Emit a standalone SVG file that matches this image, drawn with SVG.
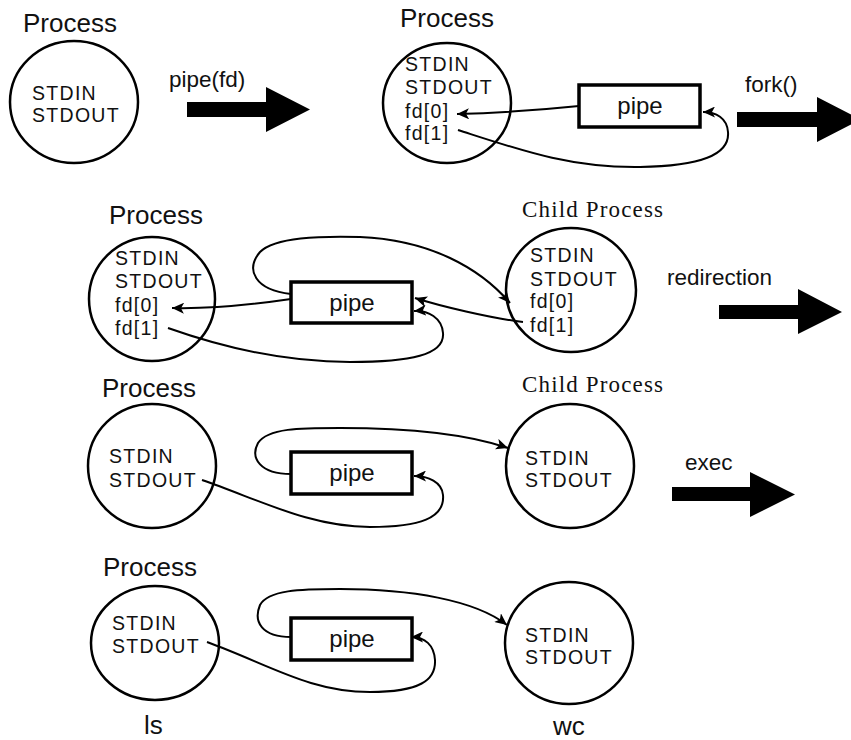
<svg xmlns="http://www.w3.org/2000/svg" width="851" height="740" viewBox="0 0 851 740">
  <style>
    .bg { fill: #ffffff; }
    .proc { fill: none; stroke: #000; stroke-width: 2.5; }
    .pipe { fill: #ffffff; stroke: #000; stroke-width: 3.5; }
    .lbl { font-family: "Liberation Sans", Arial, sans-serif; font-size: 22.5px; fill: #111; }
    .fd { font-family: "Liberation Sans", Arial, sans-serif; font-size: 19.5px; letter-spacing: 1.3px; fill: #111; }
    .title { font-family: "Liberation Sans", Arial, sans-serif; font-size: 26px; fill: #111; }
    .serif { font-family: "Liberation Serif", "Times New Roman", serif; font-size: 23px; fill: #111; }
    .pipetxt { font-family: "Liberation Sans", Arial, sans-serif; font-size: 24px; fill: #111; text-anchor: middle; }
    .wire { fill: none; stroke: #000; stroke-width: 2; marker-end: url(#tip); }
    .big { fill: #000; }
  </style>
  <defs>
    <marker id="tip" markerUnits="userSpaceOnUse" markerWidth="13" markerHeight="11" refX="12" refY="5.5" orient="auto">
      <path d="M0,0 L12,5.5 L0,11 L3,5.5 z" fill="#000"/>
    </marker>
  </defs>
  <rect class="bg" x="0" y="0" width="851" height="740"/>

  <!-- step 1: single process before pipe() -->
  <g id="proc1">
    <text class="title" x="23" y="32">Process</text>
    <ellipse class="proc" cx="74" cy="102" rx="64" ry="61"/>
    <text class="fd"><tspan x="32" y="100">STDIN</tspan><tspan x="32" y="122">STDOUT</tspan></text>
  </g>
  <g id="step-pipe">
    <text class="lbl" x="169" y="87">pipe(fd)</text>
    <polygon class="big" points="187,102 266,102 266,87 310,109.5 266,132 266,117 187,117"/>
  </g>

  <!-- step 2: process owning both ends of the pipe -->
  <g id="proc2">
    <text class="title" x="400" y="27">Process</text>
    <ellipse class="proc" cx="447" cy="103" rx="64" ry="60"/>
    <text class="fd"><tspan x="405" y="71">STDIN</tspan><tspan x="405" y="94">STDOUT</tspan><tspan x="405" y="118">fd[0]</tspan><tspan x="405" y="140">fd[1]</tspan></text>
  </g>
  <g id="pipe2">
    <rect class="pipe" x="579" y="85" width="121" height="42"/>
    <text class="pipetxt" x="640" y="114">pipe</text>
  </g>
  <g id="step-fork">
    <text class="lbl" x="745" y="92">fork()</text>
    <polygon class="big" points="737,112 817,112 817,97 861,119.5 817,142 817,127 737,127"/>
  </g>

  <!-- step 3: parent and child share the pipe -->
  <g id="proc3">
    <text class="title" x="109" y="224">Process</text>
    <ellipse class="proc" cx="152" cy="299" rx="63" ry="62"/>
    <text class="fd"><tspan x="115" y="265">STDIN</tspan><tspan x="115" y="288">STDOUT</tspan><tspan x="115" y="312">fd[0]</tspan><tspan x="115" y="335">fd[1]</tspan></text>
  </g>
  <g id="pipe3">
    <rect class="pipe" x="291" y="282" width="121" height="41"/>
    <text class="pipetxt" x="352" y="311">pipe</text>
  </g>
  <g id="child3">
    <text class="serif" x="522" y="217" textLength="141">Child Process</text>
    <ellipse class="proc" cx="571" cy="290" rx="65" ry="62"/>
    <text class="fd"><tspan x="530" y="262">STDIN</tspan><tspan x="530" y="286">STDOUT</tspan><tspan x="530" y="308">fd[0]</tspan><tspan x="530" y="332">fd[1]</tspan></text>
  </g>
  <g id="step-redirect">
    <text class="lbl" x="667" y="285">redirection</text>
    <polygon class="big" points="719,305 798,305 798,289 842,312 798,334 798,319 719,319"/>
  </g>

  <!-- step 4: STDOUT of parent redirected into the pipe -->
  <g id="proc4">
    <text class="title" x="102" y="397">Process</text>
    <ellipse class="proc" cx="152" cy="466" rx="64" ry="62"/>
    <text class="fd"><tspan x="109" y="463">STDIN</tspan><tspan x="109" y="487">STDOUT</tspan></text>
  </g>
  <g id="pipe4">
    <rect class="pipe" x="291" y="452" width="121" height="42"/>
    <text class="pipetxt" x="352" y="481">pipe</text>
  </g>
  <g id="child4">
    <text class="serif" x="522" y="392" textLength="141">Child Process</text>
    <ellipse class="proc" cx="570" cy="466" rx="64" ry="62"/>
    <text class="fd"><tspan x="525" y="465">STDIN</tspan><tspan x="525" y="487">STDOUT</tspan></text>
  </g>
  <g id="step-exec">
    <text class="lbl" x="685" y="470">exec</text>
    <polygon class="big" points="672,487 750,487 750,472 795,494.5 750,517 750,501 672,501"/>
  </g>

  <!-- step 5: ls | wc -->
  <g id="proc5">
    <text class="title" x="103" y="576">Process</text>
    <ellipse class="proc" cx="155" cy="643" rx="64" ry="57"/>
    <text class="fd"><tspan x="112" y="630">STDIN</tspan><tspan x="112" y="653">STDOUT</tspan></text>
    <text class="title" x="144" y="734">ls</text>
  </g>
  <g id="pipe5">
    <rect class="pipe" x="291" y="618" width="121" height="42"/>
    <text class="pipetxt" x="352" y="647">pipe</text>
  </g>
  <g id="child5">
    <ellipse class="proc" cx="569" cy="643" rx="64" ry="61"/>
    <text class="fd"><tspan x="525" y="642">STDIN</tspan><tspan x="525" y="664">STDOUT</tspan></text>
    <text class="title" x="553" y="735">wc</text>
  </g>

  <g id="connectors">
    <!-- step 2 -->
    <path class="wire" d="M579,106 C540,110 500,113 457,114"/>
    <path class="wire" d="M458,130 C520,150 570,168 640,167 C700,166 730,155 728,132 C727,118 716,112 703,112"/>
    <!-- step 3 -->
    <path class="wire" d="M291,299 C250,305 212,309 172,308"/>
    <path class="wire" d="M291,294 C255,290 245,270 260,252 C275,237 320,236 360,237 C430,240 480,268 510,303"/>
    <path class="wire" d="M168,328 C230,350 290,362 350,362 C410,362 445,355 443,333 C442,318 428,310 414,311"/>
    <path class="wire" d="M523,322 C490,318 440,306 415,298"/>
    <!-- step 4 -->
    <path class="wire" d="M291,474 C260,474 250,458 258,443 C268,428 300,428 340,428 C410,428 470,435 508,448"/>
    <path class="wire" d="M202,480 C260,500 310,527 370,527 C420,527 445,518 443,495 C442,482 428,476 414,476"/>
    <!-- step 5 -->
    <path class="wire" d="M291,637 C262,637 253,622 260,605 C268,590 300,589 340,589 C410,589 475,600 507,625"/>
    <path class="wire" d="M207,642 C270,665 310,692 370,692 C420,692 436,680 435,660 C434,645 425,637 411,637"/>
  </g>
</svg>
